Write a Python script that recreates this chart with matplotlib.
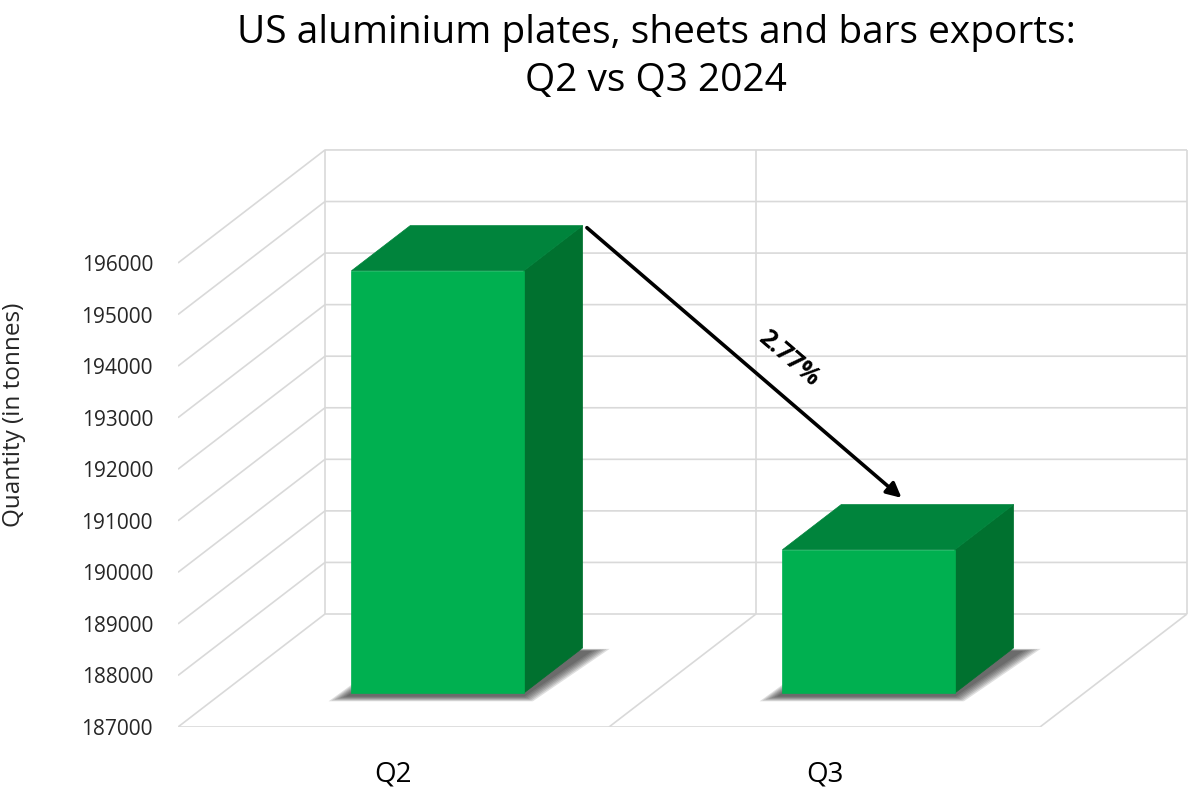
import numpy as np
import matplotlib.pyplot as plt
from matplotlib.patches import Polygon

# data
categories = ['Q2', 'Q3']
exports = [195190, 189780]
y_ticks = list(range(187000, 196001, 1000))
title_lines = ['US aluminium plates, sheets and bars exports:', 'Q2 vs Q3 2024']
y_label = 'Quantity (in tonnes)'
change_text = '2.77%'

plt.rcParams['font.family'] = ['Open Sans', 'DejaVu Sans']

# layout of the fake 3D box (pixels on a 1200x800 canvas)
W, H = 1200, 800
front_left_px, front_right_px = 178, 1040
floor_front_px = 727
px_per_value = 51.56 / 1000
depth_dx_px, depth_dy_px = 147, 113

unit_px = (front_right_px - front_left_px) / len(categories)
kx = depth_dx_px / unit_px          # depth shift in x data units
kv = depth_dy_px / px_per_value     # depth shift in value units
vmin = y_ticks[0]
vtop = y_ticks[-1]

xlim = (0, len(categories) + kx + 0.03)
ylim = (vmin, vtop + kv + 300)

fig = plt.figure(figsize=(12, 8), dpi=100)
ax_w = (xlim[1] - xlim[0]) * unit_px / W
ax_h = (ylim[1] - ylim[0]) * px_per_value / H
ax = fig.add_axes([front_left_px / W, 1 - floor_front_px / H, ax_w, ax_h])
ax.set_xlim(*xlim)
ax.set_ylim(*ylim)
for s in ax.spines.values():
    s.set_visible(False)


def proj(x, v, d):
    # oblique projection: depth d (0 front .. 1 back) moves up and right
    return x + d * kx, v + d * kv


grid_kw = dict(color='#d9d9d9', lw=1.2, zorder=1, solid_capstyle='butt')
n = len(categories)
# left wall + back wall horizontal lines
for v in y_ticks:
    a = proj(0, v, 0)
    b = proj(0, v, 1)
    c = proj(n, v, 1)
    ax.plot([a[0], b[0], c[0]], [a[1], b[1], c[1]], **grid_kw)
# back wall verticals
for i in range(n + 1):
    a = proj(i, vmin, 1)
    b = proj(i, vtop, 1)
    ax.plot([a[0], b[0]], [a[1], b[1]], **grid_kw)
# floor
a = proj(0, vmin, 0)
b = proj(n, vmin, 0)
ax.plot([a[0], b[0]], [a[1], b[1]], **grid_kw)
for i in range(1, n + 1):
    a = proj(i, vmin, 0)
    b = proj(i, vmin, 1)
    ax.plot([a[0], b[0]], [a[1], b[1]], **grid_kw)

# bars
bar_w = 0.4
d0, d1 = 0.30, 0.70
front_c = '#00B050'
top_c = '#00843C'
side_c = '#00712F'
for i, val in enumerate(exports):
    xl = i + 0.5 - bar_w / 2
    xr = i + 0.5 + bar_w / 2
    # soft shadow under the base, a bit down and to the left
    for k in range(7):
        e = 0.002 + k * 0.005
        ev = 60 + e * 900
        pts = [proj(xl - e - 0.01, vmin - ev, d0 - e), proj(xr + e, vmin - ev, d0 - e),
               proj(xr + e + 0.02, vmin - ev, d1 + e), proj(xl - e, vmin - ev, d1 + e)]
        ax.add_patch(Polygon(pts, closed=True, fc='#202020', ec='none',
                             alpha=0.14, zorder=2))
    front = [proj(xl, vmin, d0), proj(xr, vmin, d0), proj(xr, val, d0), proj(xl, val, d0)]
    top = [proj(xl, val, d0), proj(xr, val, d0), proj(xr, val, d1), proj(xl, val, d1)]
    side = [proj(xr, vmin, d0), proj(xr, vmin, d1), proj(xr, val, d1), proj(xr, val, d0)]
    ax.add_patch(Polygon(side, closed=True, fc=side_c, ec=side_c, lw=0.5, zorder=3))
    ax.add_patch(Polygon(top, closed=True, fc=top_c, ec=top_c, lw=0.5, zorder=3))
    ax.add_patch(Polygon(front, closed=True, fc=front_c, ec=front_c, lw=0.5, zorder=3))

# change arrow from Q2 top corner to Q3 top
start = proj(0.5 + bar_w / 2 + 0.01, exports[0] - 40, d1)
end = proj(1.44, exports[1] + 130, d1)
ax.annotate('', xy=end, xytext=start,
            arrowprops=dict(arrowstyle='-|>', color='black', lw=2.6,
                            mutation_scale=22, shrinkA=0, shrinkB=0),
            zorder=5)
p0 = ax.transData.transform(start)
p1 = ax.transData.transform(end)
ang = np.degrees(np.arctan2(p1[1] - p0[1], p1[0] - p0[0]))
mid = (p0 + p1) / 2
nrm = np.array([-np.sin(np.radians(ang)), np.cos(np.radians(ang))])
lab = mid + nrm * 32 + np.array([24, -20])
ax.text(*ax.transData.inverted().transform(lab), change_text, rotation=ang,
        rotation_mode='anchor', ha='center', va='center', fontsize=18,
        fontweight='bold', zorder=6)

# axes ticks
ax.set_yticks(y_ticks)
ax.set_yticklabels([str(v) for v in y_ticks])
ax.tick_params(axis='y', length=0, pad=18, labelsize=15, labelcolor='#262626')
ax.set_xticks([i + 0.5 for i in range(n)])
ax.set_xticklabels(categories)
ax.tick_params(axis='x', length=0, pad=24, labelsize=20, labelcolor='black')

# titles
fig.text(656 / W, 1 - 33 / H, title_lines[0], ha='center', va='center', fontsize=28)
fig.text(656 / W, 1 - 81 / H, title_lines[1], ha='center', va='center', fontsize=28)
fig.text(2 / W, 1 - 415 / H, y_label, rotation=90, ha='left', va='center',
         fontsize=17.5, color='#262626')

fig.savefig('out.png', dpi=100)
